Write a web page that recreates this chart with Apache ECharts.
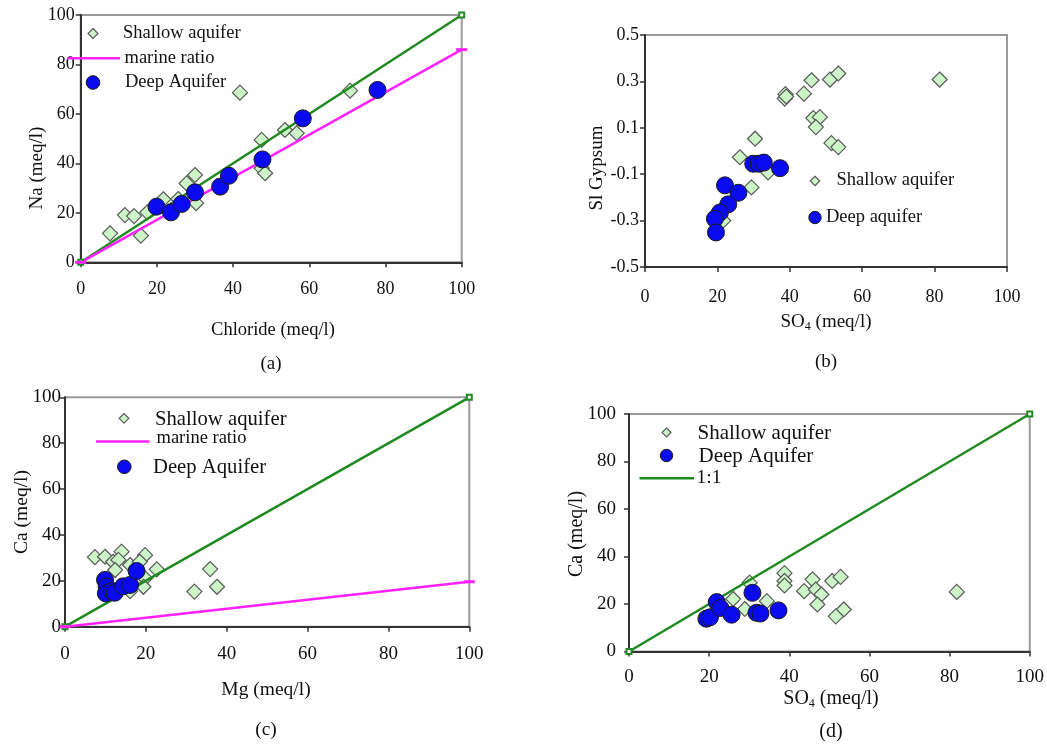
<!DOCTYPE html>
<html>
<head>
<meta charset="utf-8">
<script src="https://cdn.jsdelivr.net/npm/echarts@6/dist/echarts.min.js"></script>
<style>
html,body{margin:0;padding:0;background:#fff;}
#chart{width:1047px;height:745px;}
</style>
</head>
<body>
<div id="chart"></div>
<script>
// ---------- data ----------
// (a) Na vs Chloride
const aShallowX = [7.7, 11.6, 14.0, 15.8, 17.5, 21.7, 25.6, 27.8, 30.0, 30.3, 41.8, 47.5, 47.5, 48.4, 53.6, 56.7, 70.7];
const aShallowY = [11.7, 19.1, 18.7, 10.8, 20.2, 25.5, 25.6, 31.9, 35.3, 23.9, 68.6, 49.5, 38.0, 36.0, 53.5, 52.2, 69.4];
const aDeepX = [19.9, 23.7, 26.5, 30.0, 36.6, 38.9, 47.7, 58.3, 77.9];
const aDeepY = [22.5, 20.2, 23.6, 28.3, 30.6, 35.0, 41.6, 58.2, 69.7];
// (b) SI Gypsum vs SO4
const bShallowX = [38.6, 38.8, 39.0, 43.9, 46.0, 51.1, 53.4, 81.4, 46.5, 48.3, 47.2, 51.5, 53.4, 30.4, 26.2, 29.4, 34.0, 21.6];
const bShallowY = [0.226, 0.245, 0.235, 0.247, 0.305, 0.308, 0.334, 0.308, 0.142, 0.146, 0.103, 0.034, 0.017, 0.053, -0.027, -0.157, -0.092, -0.300];
const bDeepX = [29.9, 31.4, 32.8, 37.3, 22.1, 25.8, 23.0, 20.7, 19.3, 19.6];
const bDeepY = [-0.055, -0.055, -0.050, -0.074, -0.148, -0.180, -0.230, -0.265, -0.292, -0.351];
// (c) Ca vs Mg
const cShallowX = [7.4, 9.9, 11.9, 14.0, 13.2, 16.1, 19.8, 18.5, 22.7, 19.8, 19.4, 16.1, 12.4, 35.9, 32.0, 37.6];
const cShallowY = [30.3, 30.5, 28.3, 32.7, 29.1, 26.9, 31.2, 28.3, 25.0, 21.1, 17.4, 15.5, 24.7, 25.1, 15.3, 17.4];
const cDeepX = [9.9, 10.3, 10.1, 11.5, 12.3, 14.4, 16.1, 17.7];
const cDeepY = [20.4, 17.5, 14.5, 15.5, 14.8, 17.6, 18.2, 24.3];
// (d) Ca vs SO4
const dShallowX = [38.8, 38.8, 38.8, 30.1, 26.0, 28.9, 34.4, 43.7, 45.8, 46.6, 48.0, 47.0, 50.7, 52.8, 53.6, 51.6, 81.8];
const dShallowY = [33.0, 29.7, 27.8, 29.0, 22.1, 17.9, 21.2, 25.4, 30.4, 26.1, 24.0, 19.8, 29.7, 31.4, 17.7, 14.8, 25.1];
const dDeepX = [19.3, 20.2, 21.9, 22.8, 25.6, 30.8, 31.8, 32.8, 37.3];
const dDeepY = [13.8, 14.4, 20.8, 18.3, 15.5, 24.7, 16.3, 16.0, 17.3];
// reference lines
const oneToOneX = [0, 100];
const oneToOneY = [0, 100];
const marineNaX = [0, 100];
const marineNaY = [0, 86];
const marineCaX = [0, 100];
const marineCaY = [0, 19.6];
// tick settings
const pctTicks = {min: 0, max: 100, interval: 20};
const siTicks = {min: -0.5, max: 0.5, interval: 0.2};

// ---------- style ----------
const FONT = '"Liberation Serif", "Times New Roman", serif';
const C_SHALLOW = '#ccf5c8';
const C_SHALLOW_B = '#5a5a5a';
const C_DEEP = '#0a0af0';
const C_DEEP_B = '#1a1a1a';
const C_GREEN = '#1f8a1f';
const C_MAG = '#ff22ff';

function pts(xs, ys) { return xs.map((x, i) => [x, ys[i]]); }

function xAx(gi, fs, margin) {
  return {
    type: 'value', gridIndex: gi, min: pctTicks.min, max: pctTicks.max, interval: pctTicks.interval,
    axisLine: {show: true, onZero: false, lineStyle: {color: '#333', width: 2}},
    axisTick: {show: true, length: 5, lineStyle: {color: '#333', width: 1.5}},
    axisLabel: {fontFamily: FONT, fontSize: fs, color: '#111', margin: margin},
    splitLine: {show: false}
  };
}
function yAx(gi, fs, margin, t, fmt) {
  return {
    type: 'value', gridIndex: gi, min: t.min, max: t.max, interval: t.interval,
    axisLine: {show: true, onZero: false, lineStyle: {color: '#333', width: 2}},
    axisTick: {show: true, length: 5, lineStyle: {color: '#333', width: 1.5}},
    axisLabel: {fontFamily: FONT, fontSize: fs, color: '#111', margin: margin, formatter: fmt},
    splitLine: {show: false}
  };
}
function shallow(gi, xs, ys, name) {
  return {
    type: 'scatter', name: name, xAxisIndex: gi, yAxisIndex: gi, data: pts(xs, ys),
    symbol: 'diamond', symbolSize: 15, z: 2,
    itemStyle: {color: C_SHALLOW, borderColor: C_SHALLOW_B, borderWidth: 1.2, opacity: 1}
  };
}
function deep(gi, xs, ys, name) {
  return {
    type: 'scatter', name: name, xAxisIndex: gi, yAxisIndex: gi, data: pts(xs, ys),
    symbol: 'circle', symbolSize: 17, z: 4,
    itemStyle: {color: C_DEEP, borderColor: C_DEEP_B, borderWidth: 1, opacity: 1}
  };
}
function greenLine(gi, name) {
  return {
    type: 'line', name: name, xAxisIndex: gi, yAxisIndex: gi, data: pts(oneToOneX, oneToOneY),
    symbol: 'emptyRect', symbolSize: 5, showSymbol: true, clip: false, z: 3,
    lineStyle: {color: C_GREEN, width: 2.5}, itemStyle: {color: C_GREEN, borderWidth: 1.2}
  };
}
function magLine(gi, xs, ys) {
  return {
    type: 'line', name: 'marine ratio', xAxisIndex: gi, yAxisIndex: gi, data: pts(xs, ys),
    symbol: 'rect', symbolSize: [11, 3], showSymbol: true, clip: false, z: 3,
    lineStyle: {color: C_MAG, width: 2.5}, itemStyle: {color: C_MAG}
  };
}

// ---------- legend / label graphics ----------
function diamond(cx, cy, s) {
  return {type: 'polygon', shape: {points: [[cx, cy - s / 2], [cx + s / 2, cy], [cx, cy + s / 2], [cx - s / 2, cy]]},
    style: {fill: C_SHALLOW, stroke: C_SHALLOW_B, lineWidth: 1.2}, z: 10};
}
function dot(cx, cy, r) {
  return {type: 'circle', shape: {cx: cx, cy: cy, r: r}, style: {fill: C_DEEP, stroke: C_DEEP_B, lineWidth: 1}, z: 10};
}
function seg(x1, x2, y, color) {
  return {type: 'line', shape: {x1: x1, y1: y, x2: x2, y2: y}, style: {stroke: color, lineWidth: 2.5}, z: 10};
}
function txt(x, y, s, fs, align, rot) {
  return {type: 'text', x: x, y: y, rotation: rot || 0, z: 10,
    style: {text: s, fontFamily: FONT, fontSize: fs, fill: '#111', align: align || 'left', verticalAlign: 'middle'}};
}
function subTxt(x, y, fs) {
  return {type: 'text', x: x, y: y, z: 10,
    style: {text: '{n|SO}{s|4}{n| (meq/l)}', align: 'center', verticalAlign: 'middle', fill: '#111',
      rich: {n: {fontFamily: FONT, fontSize: fs, fill: '#111'},
             s: {fontFamily: FONT, fontSize: Math.round(fs * 0.62), fill: '#111', padding: [Math.round(fs * 0.5), 0, 0, 0]}}}};
}

const graphics = [
  // (a) legend
  diamond(93, 33.5, 10), txt(123, 33.5, 'Shallow aquifer', 18.5),
  seg(67, 120, 58.3, C_MAG), txt(124.5, 58, 'marine ratio', 18.5),
  dot(93, 82.5, 6.8), txt(125, 82, 'Deep Aquifer', 18.5),
  // (a) titles
  txt(37, 168, 'Na (meq/l)', 19, 'center', Math.PI / 2),
  txt(273, 330, 'Chloride (meq/l)', 18.5, 'center'),
  txt(271, 364, '(a)', 19, 'center'),
  // (b) legend
  diamond(815, 181, 9.5), txt(836.5, 180, 'Shallow aquifer', 18.5),
  dot(815, 217.5, 6.2), txt(826, 217.5, 'Deep aquifer', 18.5),
  // (b) titles
  txt(597, 168, 'Sl Gypsum', 19, 'center', Math.PI / 2),
  subTxt(826, 322, 19),
  txt(826, 362, '(b)', 19, 'center'),
  // (c) legend
  diamond(124, 418.3, 9.5), txt(155, 419.5, 'Shallow aquifer', 20.7),
  seg(96, 149.5, 441.5, C_MAG), txt(156.5, 438.5, 'marine ratio', 18.5),
  dot(124.3, 466.8, 6.8), txt(153, 468, 'Deep Aquifer', 20.7),
  // (c) titles
  txt(22, 512, 'Ca (meq/l)', 19.5, 'center', Math.PI / 2),
  txt(266, 690, 'Mg (meq/l)', 19.5, 'center'),
  txt(266, 730, '(c)', 19.5, 'center'),
  // (d) legend
  diamond(666.5, 432.5, 9), txt(697.5, 433, 'Shallow aquifer', 21),
  dot(666.5, 455.5, 6.2), txt(698.5, 456, 'Deep Aquifer', 21),
  seg(639.5, 694, 478.3, C_GREEN), txt(696.5, 478, '1:1', 19.5),
  // (d) titles
  txt(577, 534, 'Ca (meq/l)', 20, 'center', Math.PI / 2),
  subTxt(831, 699, 20),
  txt(831, 732, '(d)', 20, 'center')
];

const gridStyle = {show: true, borderColor: '#9a9a9a', borderWidth: 2, backgroundColor: 'transparent', containLabel: false};

const option = {
  animation: false,
  backgroundColor: '#ffffff',
  grid: [
    Object.assign({left: 80.7, top: 15, width: 381, height: 247.3}, gridStyle),
    Object.assign({left: 645, top: 35, width: 362, height: 232}, gridStyle),
    Object.assign({left: 65, top: 397.3, width: 404.3, height: 229.4}, gridStyle),
    Object.assign({left: 629, top: 414, width: 404, height: 237.5}, gridStyle)
  ],
  xAxis: [xAx(0, 18, 18), xAx(1, 18, 21), xAx(2, 19, 18), xAx(3, 19, 16)],
  yAxis: [
    yAx(0, 18, 6, pctTicks),
    yAx(1, 18, 6, siTicks, v => v.toFixed(1)),
    yAx(2, 19, 4, pctTicks),
    yAx(3, 19, 13, pctTicks)
  ],
  series: [
    shallow(0, aShallowX, aShallowY, 'Shallow aquifer'),
    greenLine(0, '1:1'),
    magLine(0, marineNaX, marineNaY),
    deep(0, aDeepX, aDeepY, 'Deep Aquifer'),

    shallow(1, bShallowX, bShallowY, 'Shallow aquifer'),
    deep(1, bDeepX, bDeepY, 'Deep aquifer'),

    shallow(2, cShallowX, cShallowY, 'Shallow aquifer'),
    greenLine(2, '1:1'),
    magLine(2, marineCaX, marineCaY),
    deep(2, cDeepX, cDeepY, 'Deep Aquifer'),

    shallow(3, dShallowX, dShallowY, 'Shallow aquifer'),
    greenLine(3, '1:1'),
    deep(3, dDeepX, dDeepY, 'Deep Aquifer')
  ],
  graphic: graphics
};

const chart = echarts.init(document.getElementById('chart'), null, {renderer: 'canvas'});
chart.setOption(option);
</script>
</body>
</html>
